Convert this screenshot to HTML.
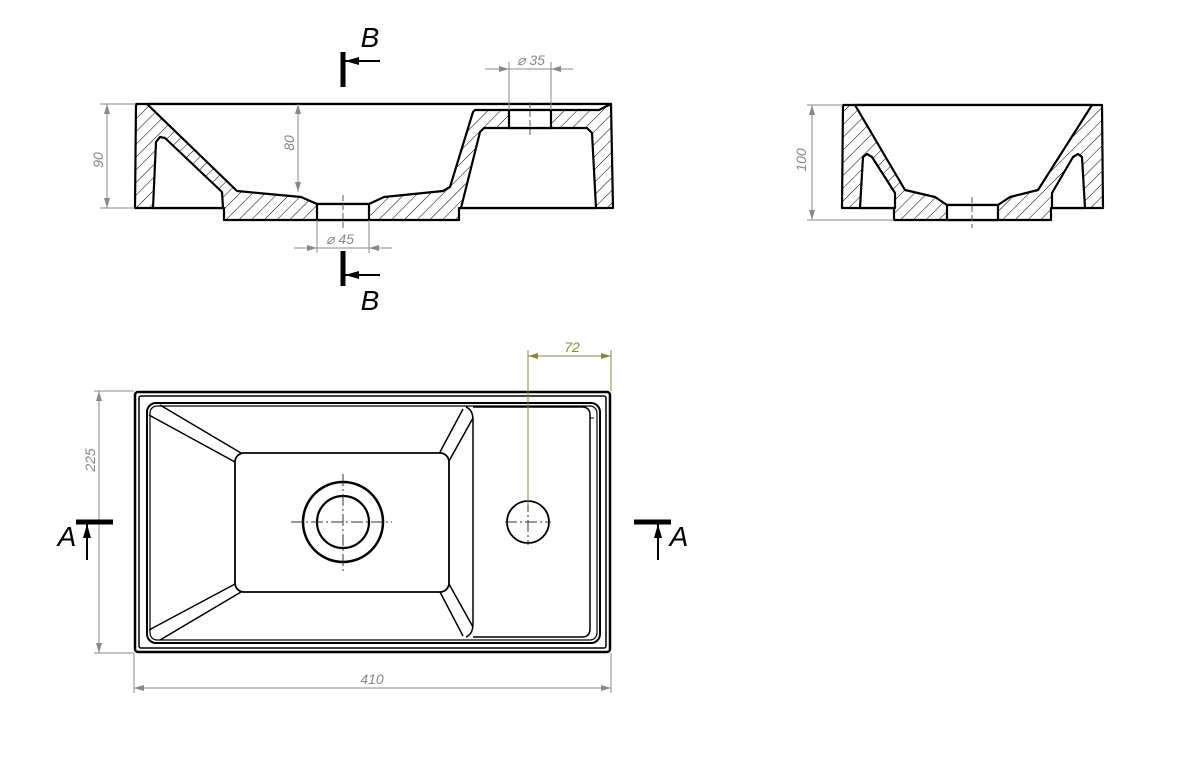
<!DOCTYPE html>
<html><head><meta charset="utf-8"><style>
html,body{margin:0;padding:0;background:#fff;}
svg{display:block;}
.t{font-family:"Liberation Sans",sans-serif;font-style:italic;}
</style></head><body>
<svg width="1200" height="760" viewBox="0 0 1200 760" xmlns="http://www.w3.org/2000/svg">
<defs>
<pattern id="h" patternUnits="userSpaceOnUse" width="9" height="9" patternTransform="rotate(45)">
<rect width="9" height="9" fill="#fff"/><line x1="0" y1="0" x2="0" y2="9" stroke="#000" stroke-width="1"/>
</pattern>
<marker id="ag" markerWidth="10" markerHeight="6" refX="10" refY="3" orient="auto" markerUnits="userSpaceOnUse"><path d="M0,0 L10,3 L0,6 z" fill="#888"/></marker>
<marker id="ao" markerWidth="10" markerHeight="6" refX="10" refY="3" orient="auto" markerUnits="userSpaceOnUse"><path d="M0,0 L10,3 L0,6 z" fill="#8a8a30"/></marker>
<marker id="ab" markerWidth="14" markerHeight="8" refX="14" refY="4" orient="auto" markerUnits="userSpaceOnUse"><path d="M0,0 L14,4 L0,8 z" fill="#000"/></marker>
</defs>

<!-- SECTION A-A -->
<g stroke="#000" stroke-width="2.2" stroke-linejoin="round">
<polygon points="136,104 611,104 613,208 459,208 459,220 224,220 224,208 135,208" fill="url(#h)"/>
<polygon points="147,104 237,191 301,197 317,204 369,204 384,197 443,191 450,187 473,112 475,110 599,110 611,104" fill="#fff"/>
<polygon points="153,208 156,142 160,137 165,138 222,192 223,208" fill="#fff"/>
<polygon points="461,208 480,132 484,128 587,128 592,133 596,208" fill="#fff"/>
<rect x="317" y="204" width="52" height="16" fill="#fff"/>
<rect x="509" y="110" width="42" height="18" fill="#fff"/>
</g>
<line x1="343" y1="195" x2="343" y2="229" stroke="#555" stroke-width="1" stroke-dasharray="6,3"/>
<line x1="530" y1="102" x2="530" y2="136" stroke="#555" stroke-width="1" stroke-dasharray="6,3"/>
<g stroke="#888" stroke-width="1" fill="none">
<line x1="100" y1="104" x2="136" y2="104"/><line x1="100" y1="208" x2="135" y2="208"/>
<line x1="107" y1="156" x2="107" y2="104" marker-end="url(#ag)"/><line x1="107" y1="156" x2="107" y2="208" marker-end="url(#ag)"/>
<line x1="298" y1="150" x2="298" y2="104" marker-end="url(#ag)"/><line x1="298" y1="150" x2="298" y2="192" marker-end="url(#ag)"/>
<line x1="509" y1="62" x2="509" y2="110"/><line x1="551" y1="62" x2="551" y2="110"/>
<line x1="485" y1="69" x2="509" y2="69" marker-end="url(#ag)"/><line x1="573" y1="69" x2="551" y2="69" marker-end="url(#ag)"/><line x1="509" y1="69" x2="551" y2="69"/>
<line x1="317" y1="220" x2="317" y2="253"/><line x1="369" y1="220" x2="369" y2="253"/>
<line x1="294" y1="248" x2="317" y2="248" marker-end="url(#ag)"/><line x1="392" y1="248" x2="369" y2="248" marker-end="url(#ag)"/><line x1="317" y1="248" x2="369" y2="248"/>
</g>
<g class="t" fill="#888" font-size="14">
<text transform="translate(103,160) rotate(-90)" text-anchor="middle">90</text>
<text transform="translate(294,143) rotate(-90)" text-anchor="middle">80</text>
<text x="531" y="65" text-anchor="middle">⌀ 35</text>
<text x="340" y="244" text-anchor="middle">⌀ 45</text>
</g>
<!-- B marks -->
<line x1="343" y1="52" x2="343" y2="87" stroke="#000" stroke-width="5"/>
<line x1="380" y1="61" x2="345" y2="61" stroke="#000" stroke-width="2" marker-end="url(#ab)"/>
<line x1="343" y1="251" x2="343" y2="286" stroke="#000" stroke-width="5"/>
<line x1="380" y1="275" x2="345" y2="275" stroke="#000" stroke-width="2" marker-end="url(#ab)"/>
<text class="t" x="370" y="47" font-size="28" text-anchor="middle">B</text>
<text class="t" x="370" y="310" font-size="28" text-anchor="middle">B</text>

<!-- SECTION B-B -->
<g stroke="#000" stroke-width="2.2" stroke-linejoin="round">
<polygon points="843,105 1102,105 1103,208 1051,208 1051,220 894,220 894,208 842,208" fill="url(#h)"/>
<polygon points="855,105 905,190 935,197 947,205 998,205 1010,197 1038,190 1092,105" fill="#fff"/>
<polygon points="860,208 863,157 867,154 872,157 895,193 895,208" fill="#fff"/>
<polygon points="1052,208 1052,193 1073,157 1078,154 1082,157 1085,208" fill="#fff"/>
<rect x="947" y="205" width="51" height="15" fill="#fff"/>
</g>
<line x1="972" y1="197" x2="972" y2="228" stroke="#555" stroke-width="1" stroke-dasharray="6,3"/>
<g stroke="#888" stroke-width="1">
<line x1="807" y1="105" x2="843" y2="105"/><line x1="807" y1="220" x2="894" y2="220"/>
<line x1="812" y1="162" x2="812" y2="105" marker-end="url(#ag)"/><line x1="812" y1="162" x2="812" y2="220" marker-end="url(#ag)"/>
</g>
<text class="t" transform="translate(806,160) rotate(-90)" text-anchor="middle" fill="#888" font-size="14">100</text>

<!-- PLAN VIEW -->
<g stroke="#000" fill="none">
<rect x="135" y="392" width="475" height="260" rx="3" stroke-width="2.5"/>
<rect x="139" y="396" width="467" height="252" rx="2" stroke-width="1.5"/>
<rect x="147" y="403" width="453" height="240" rx="9" stroke-width="2"/>
<rect x="150" y="406" width="447" height="234" rx="7" stroke-width="1.2"/>
<path d="M473,407 L582,407 Q590,407 590,415 L590,629 Q590,637 582,637 L473,637" stroke-width="1.5"/>
<path d="M466,407 Q473,410 473,420 L473,624 Q473,634 466,637" stroke-width="1.5"/>
<line x1="590" y1="418" x2="594" y2="418" stroke-width="1"/>
<rect x="235" y="453" width="214" height="139" rx="9" stroke-width="1.8"/>
<g stroke-width="1.5">
<line x1="160" y1="405" x2="241" y2="453"/><line x1="149" y1="415" x2="235" y2="462"/>
<line x1="160" y1="640" x2="241" y2="592"/><line x1="149" y1="630" x2="235" y2="584"/>
<line x1="463" y1="409" x2="440" y2="452"/><line x1="473" y1="418" x2="449" y2="461"/>
<line x1="463" y1="636" x2="440" y2="592"/><line x1="473" y1="627" x2="449" y2="584"/>
</g>
<circle cx="343" cy="522" r="40" stroke-width="2.5"/>
<circle cx="343" cy="522" r="26" stroke-width="2.2"/>
<circle cx="528" cy="522" r="21" stroke-width="1.8"/>
</g>
<g stroke="#333" stroke-width="1" stroke-dasharray="12,3,2,3">
<line x1="291" y1="522" x2="392" y2="522"/><line x1="343" y1="474" x2="343" y2="574"/>
<line x1="505" y1="522" x2="551" y2="522"/><line x1="528" y1="500" x2="528" y2="545"/>
</g>
<!-- 72 dim -->
<g stroke="#8a8a30" stroke-width="1">
<line x1="528" y1="350" x2="528" y2="505"/><line x1="611" y1="350" x2="611" y2="391"/>
<line x1="570" y1="356" x2="528" y2="356" marker-end="url(#ao)"/><line x1="570" y1="356" x2="611" y2="356" marker-end="url(#ao)"/>
</g>
<text class="t" x="572" y="352" text-anchor="middle" fill="#8a8a30" font-size="14">72</text>
<!-- 225 / 410 -->
<g stroke="#888" stroke-width="1">
<line x1="94" y1="391" x2="134" y2="391"/><line x1="94" y1="653" x2="134" y2="653"/>
<line x1="99" y1="520" x2="99" y2="391" marker-end="url(#ag)"/><line x1="99" y1="520" x2="99" y2="653" marker-end="url(#ag)"/>
<line x1="134" y1="653" x2="134" y2="693"/><line x1="611" y1="653" x2="611" y2="693"/>
<line x1="372" y1="688" x2="134" y2="688" marker-end="url(#ag)"/><line x1="372" y1="688" x2="611" y2="688" marker-end="url(#ag)"/>
</g>
<text class="t" transform="translate(95,460) rotate(-90)" text-anchor="middle" fill="#888" font-size="14">225</text>
<text class="t" x="372" y="684" text-anchor="middle" fill="#888" font-size="14">410</text>
<!-- A marks -->
<line x1="76" y1="522" x2="113" y2="522" stroke="#000" stroke-width="5"/>
<line x1="87" y1="560" x2="87" y2="524" stroke="#000" stroke-width="2" marker-end="url(#ab)"/>
<text class="t" x="67" y="546" font-size="28" text-anchor="middle">A</text>
<line x1="634" y1="522" x2="671" y2="522" stroke="#000" stroke-width="5"/>
<line x1="658" y1="560" x2="658" y2="524" stroke="#000" stroke-width="2" marker-end="url(#ab)"/>
<text class="t" x="679" y="546" font-size="28" text-anchor="middle">A</text>
</svg>
</body></html>
